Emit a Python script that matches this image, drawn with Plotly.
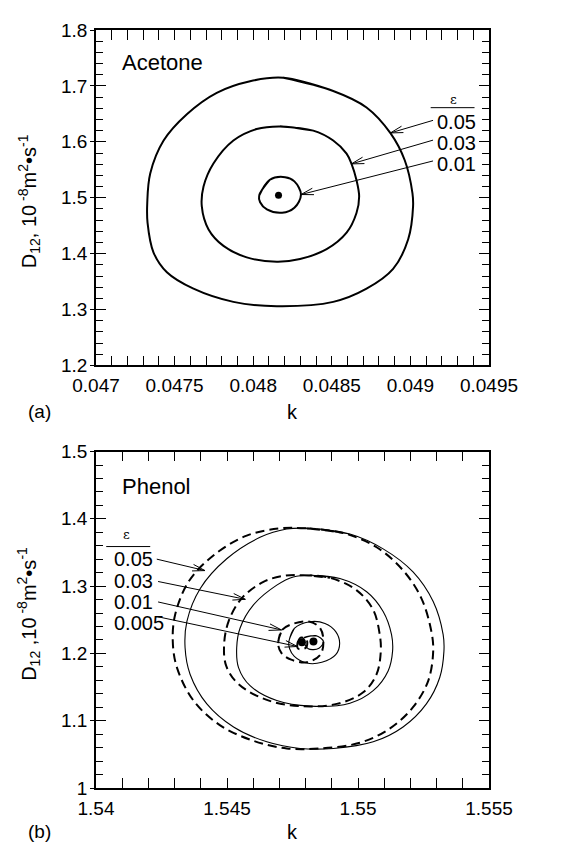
import numpy as np
import plotly.graph_objects as go

FONT = "Liberation Sans, Arial, sans-serif"

# ---------------- Panel (a): Acetone ----------------
a_x_range = [0.047, 0.0495]
a_y_range = [1.2, 1.8]
a_x_ticks = [0.047, 0.0475, 0.048, 0.0485, 0.049, 0.0495]
a_x_text = ["0.047", "0.0475", "0.048", "0.0485", "0.049", "0.0495"]
a_y_ticks = [1.2, 1.3, 1.4, 1.5, 1.6, 1.7, 1.8]
a_y_text = ["1.2", "1.3", "1.4", "1.5", "1.6", "1.7", "1.8"]

a_k_005 = [0.048192, 0.048509, 0.048721, 0.048873, 0.048964, 0.049013, 0.049017, 0.048986,
           0.048890, 0.048721, 0.048509, 0.048150, 0.047874, 0.047620, 0.047451, 0.047366,
           0.047328, 0.047326, 0.047345, 0.047430, 0.047578, 0.047768, 0.047980]
a_D_005 = [1.7145, 1.6910, 1.6615, 1.6155, 1.5670, 1.5081, 1.4846, 1.4257,
           1.3727, 1.3373, 1.3137, 1.3060, 1.3137, 1.3373, 1.3667, 1.4020,
           1.4550, 1.4904, 1.5434, 1.6023, 1.6494, 1.6877, 1.7084]

a_k_003 = [0.048171, 0.048382, 0.048509, 0.048594, 0.048626, 0.048657, 0.048674, 0.048657,
           0.048594, 0.048467, 0.048298, 0.048150, 0.047959, 0.047811, 0.047716, 0.047673,
           0.047684, 0.047747, 0.047874, 0.048022]
a_D_003 = [1.6276, 1.6200, 1.6023, 1.5788, 1.5600, 1.5316, 1.5022, 1.4727,
           1.4374, 1.4079, 1.3903, 1.3856, 1.3933, 1.4138, 1.4433, 1.4845,
           1.5199, 1.5611, 1.6023, 1.6229]

a_k_001 = [0.048038, 0.048106, 0.048203, 0.048262, 0.048304, 0.048262, 0.048184, 0.048087, 0.048044]
a_D_001 = [1.5039, 1.5322, 1.5368, 1.5292, 1.5057, 1.4820, 1.4731, 1.4791, 1.4920]

a_opt_k = [0.048161]
a_opt_D = [1.5044]

a_labels = ["0.05", "0.03", "0.01"]
a_label_k = 0.049155
a_label_D = [1.6354, 1.5982, 1.5599]
a_arrow_tail = [(0.049144, 1.6384), (0.049144, 1.6030), (0.049144, 1.5658)]
a_arrow_tip = [(0.048873, 1.6159), (0.048625, 1.5605), (0.048304, 1.5057)]
a_eps = (0.049271, 1.6749)
a_eps_line = (0.049129, 0.049408, 1.6611)
a_name = ("Acetone", 0.047154, 1.7416)

# ---------------- Panel (b): Phenol ----------------
b_x_range = [1.54, 1.555]
b_y_range = [1.0, 1.5]
b_x_ticks = [1.54, 1.545, 1.55, 1.555]
b_x_text = ["1.54", "1.545", "1.55", "1.555"]
b_y_ticks = [1.0, 1.1, 1.2, 1.3, 1.4, 1.5]
b_y_text = ["1", "1.1", "1.2", "1.3", "1.4", "1.5"]

# solid contours
b_k_005s = [1.54817, 1.54969, 1.55096, 1.55210, 1.55287, 1.55325, 1.55328, 1.55312, 1.55261,
            1.55172, 1.55058, 1.54906, 1.54779, 1.54652, 1.54525, 1.54423, 1.54359, 1.54340,
            1.54347, 1.54398, 1.54499, 1.54626, 1.54728]
b_D_005s = [1.3858, 1.3775, 1.3554, 1.3211, 1.2770, 1.2279, 1.2034, 1.1642, 1.1250,
            1.0907, 1.0686, 1.0588, 1.0588, 1.0686, 1.0907, 1.1250, 1.1691, 1.2083,
            1.2476, 1.2966, 1.3407, 1.3725, 1.3848]
b_k_003s = [1.54817, 1.54931, 1.55033, 1.55096, 1.55128, 1.55132, 1.55115, 1.55058, 1.54969,
            1.54817, 1.54690, 1.54588, 1.54544, 1.54537, 1.54550, 1.54601, 1.54690, 1.54753]
b_D_003s = [1.3162, 1.3113, 1.2917, 1.2623, 1.2279, 1.2034, 1.1740, 1.1446, 1.1260,
            1.1216, 1.1299, 1.1520, 1.1789, 1.2083, 1.2377, 1.2721, 1.3015, 1.3137]
b_k_001s = [1.54736, 1.54757, 1.54816, 1.54874, 1.54915, 1.54930, 1.54915, 1.54862, 1.54804,
            1.54757, 1.54739]
b_D_001s = [1.2176, 1.2372, 1.2471, 1.2446, 1.2324, 1.2152, 1.1981, 1.1868, 1.1857,
            1.1956, 1.2069]
b_k_0005s = [1.54792, 1.54839, 1.54868, 1.54851, 1.54810]
b_D_0005s = [1.2225, 1.2265, 1.2176, 1.2078, 1.2069]

# dashed contours
b_k_005d = [1.54804, 1.54943, 1.55071, 1.55172, 1.55242, 1.55280, 1.55287, 1.55268, 1.55210,
            1.55121, 1.55007, 1.54855, 1.54728, 1.54601, 1.54474, 1.54372, 1.54309, 1.54293,
            1.54302, 1.54353, 1.54448, 1.54575, 1.54702]
b_D_005d = [1.3858, 1.3790, 1.3578, 1.3235, 1.2819, 1.2328, 1.2034, 1.1593, 1.1201,
            1.0882, 1.0672, 1.0588, 1.0588, 1.0701, 1.0931, 1.1299, 1.1789, 1.2181,
            1.2574, 1.3064, 1.3456, 1.3750, 1.3858]
b_k_003d = [1.54791, 1.54893, 1.54994, 1.55058, 1.55083, 1.55087, 1.55071, 1.55020, 1.54919,
            1.54779, 1.54652, 1.54544, 1.54497, 1.54489, 1.54506, 1.54556, 1.54639, 1.54715]
b_D_003d = [1.3162, 1.3123, 1.2941, 1.2647, 1.2279, 1.2034, 1.1691, 1.1422, 1.1250,
            1.1216, 1.1309, 1.1544, 1.1814, 1.2132, 1.2476, 1.2819, 1.3064, 1.3152]
b_k_001d = [1.54695, 1.54710, 1.54757, 1.54816, 1.54856, 1.54868, 1.54856, 1.54804, 1.54745,
            1.54708]
b_D_001d = [1.2152, 1.2348, 1.2446, 1.2471, 1.2372, 1.2176, 1.1981, 1.1868, 1.1907, 1.2004]
b_k_0005d = [1.54769, 1.54781, 1.54804, 1.54802, 1.54772]
b_D_0005d = [1.2152, 1.2235, 1.2201, 1.2088, 1.2069]

b_opt_k = [1.54786, 1.54830]
b_opt_D = [1.2166, 1.2176]

b_labels = ["0.05", "0.03", "0.01", "0.005"]
b_label_k = 1.5406
b_label_D = [1.3401, 1.3069, 1.2765, 1.2446]
b_arrow_tail = [(1.54232, 1.3401), (1.54237, 1.3069), (1.54237, 1.2765), (1.54237, 1.2544)]
b_arrow_tip = [(1.54416, 1.3231), (1.54570, 1.2804), (1.54708, 1.2349), (1.54769, 1.2103)]
b_eps = (1.54118, 1.3769)
b_eps_line = (1.54039, 1.54207, 1.3588)
b_name = ("Phenol", 1.54092, 1.4480)

# ---------------- layout geometry ----------------
# The page body adds an 8 px offset; figure coords = page coords - OFF
OFF = 8
W, H = 560, 837
ML = 96 - OFF
PW = 393
MR = W - ML - PW
MT = 22 - OFF
MB = H - (788 - OFF)
PH = H - MT - MB
top_dom = [1 - (361 - 22) / PH, 1.0]
bot_dom = [0.0, 1 - (448 - 22) / PH]

fig = go.Figure()


def closed(xs, ys):
    return list(xs) + [xs[0], xs[1]], list(ys) + [ys[0], ys[1]]


def add_contour(xs, ys, xa, ya, width, dash="solid"):
    cx, cy = closed(xs, ys)
    fig.add_trace(go.Scatter(x=cx, y=cy, xaxis=xa, yaxis=ya, mode="lines",
                             line=dict(color="black", width=width, dash=dash, shape="spline",
                                       smoothing=1.0),
                             hoverinfo="skip", showlegend=False))


add_contour(a_k_005, a_D_005, "x", "y", 2.0)
add_contour(a_k_003, a_D_003, "x", "y", 2.0)
add_contour(a_k_001, a_D_001, "x", "y", 2.0)
fig.add_trace(go.Scatter(x=a_opt_k, y=a_opt_D, xaxis="x", yaxis="y", mode="markers",
                         marker=dict(color="black", size=7), showlegend=False))

DASH = "9px,5px"
add_contour(b_k_005s, b_D_005s, "x2", "y2", 1.1)
add_contour(b_k_003s, b_D_003s, "x2", "y2", 1.1)
add_contour(b_k_001s, b_D_001s, "x2", "y2", 1.1)
add_contour(b_k_0005s, b_D_0005s, "x2", "y2", 1.1)
add_contour(b_k_005d, b_D_005d, "x2", "y2", 2.0, DASH)
add_contour(b_k_003d, b_D_003d, "x2", "y2", 2.0, DASH)
add_contour(b_k_001d, b_D_001d, "x2", "y2", 2.0, DASH)
add_contour(b_k_0005d, b_D_0005d, "x2", "y2", 2.0, DASH)
fig.add_trace(go.Scatter(x=b_opt_k, y=b_opt_D, xaxis="x2", yaxis="y2", mode="markers",
                         marker=dict(color="black", size=8), showlegend=False))

# invisible traces for overlay axes (outside part of crossing major ticks)
fig.add_trace(go.Scatter(x=[a_x_range[0]], y=[a_y_range[0]], xaxis="x", yaxis="y3",
                         mode="markers", marker=dict(opacity=0), showlegend=False, hoverinfo="skip"))
fig.add_trace(go.Scatter(x=[b_x_range[0]], y=[b_y_range[0]], xaxis="x2", yaxis="y4",
                         mode="markers", marker=dict(opacity=0), showlegend=False, hoverinfo="skip"))

shapes = []
annotations = []


def add_arrows(tails, tips, xr, yr, xref, yref, dom_h):
    sx = PW / (xr[1] - xr[0])
    sy = (dom_h * PH) / (yr[1] - yr[0])
    L, ang = 13.0, np.deg2rad(15)
    for (x0, y0), (x1, y1) in zip(tails, tips):
        shapes.append(dict(type="line", xref=xref, yref=yref, x0=x0, y0=y0, x1=x1, y1=y1,
                           line=dict(color="black", width=1)))
        dx, dy = (x0 - x1) * sx, (y0 - y1) * sy
        n = np.hypot(dx, dy)
        ux, uy = dx / n, dy / n
        for s in (1, -1):
            c, si = np.cos(s * ang), np.sin(s * ang)
            bx, by = ux * c - uy * si, ux * si + uy * c
            shapes.append(dict(type="line", xref=xref, yref=yref, x0=x1, y0=y1,
                               x1=x1 + L * bx / sx, y1=y1 + L * by / sy,
                               line=dict(color="black", width=1)))


add_arrows(a_arrow_tail, a_arrow_tip, a_x_range, a_y_range, "x", "y", top_dom[1] - top_dom[0])
add_arrows(b_arrow_tail, b_arrow_tip, b_x_range, b_y_range, "x2", "y2", bot_dom[1] - bot_dom[0])

BLACK = "black"
for lab, d in zip(a_labels, a_label_D):
    annotations.append(dict(text=lab, x=a_label_k, y=d, xref="x", yref="y", showarrow=False,
                            xanchor="left", yanchor="middle",
                            font=dict(size=20, family=FONT, color=BLACK)))
for lab, d in zip(b_labels, b_label_D):
    annotations.append(dict(text=lab, x=b_label_k, y=d, xref="x2", yref="y2", showarrow=False,
                            xanchor="left", yanchor="middle",
                            font=dict(size=20, family=FONT, color=BLACK)))

annotations.append(dict(text="ε", x=a_eps[0], y=a_eps[1], xref="x", yref="y", showarrow=False,
                        font=dict(size=13, family="DejaVu Serif", color=BLACK)))
annotations.append(dict(text="ε", x=b_eps[0], y=b_eps[1], xref="x2", yref="y2", showarrow=False,
                        font=dict(size=13, family="DejaVu Serif", color=BLACK)))
shapes.append(dict(type="line", xref="x", yref="y", x0=a_eps_line[0], x1=a_eps_line[1],
                   y0=a_eps_line[2], y1=a_eps_line[2], line=dict(color="black", width=1)))
shapes.append(dict(type="line", xref="x2", yref="y2", x0=b_eps_line[0], x1=b_eps_line[1],
                   y0=b_eps_line[2], y1=b_eps_line[2], line=dict(color="black", width=1)))

annotations.append(dict(text=a_name[0], x=a_name[1], y=a_name[2], xref="x", yref="y",
                        showarrow=False, xanchor="left", yanchor="middle",
                        font=dict(size=22, family=FONT, color=BLACK)))
annotations.append(dict(text=b_name[0], x=b_name[1], y=b_name[2], xref="x2", yref="y2",
                        showarrow=False, xanchor="left", yanchor="middle",
                        font=dict(size=22, family=FONT, color=BLACK)))


def py(page_y):
    return (H - MB - (page_y - OFF)) / PH


def pxx(page_x):
    return (page_x - OFF - ML) / PW


# axis titles and panel tags (positions in page pixels)
annotations += [
    dict(text="k", x=0.5, y=py(408), xref="paper", yref="paper", showarrow=False,
         yanchor="middle", font=dict(size=20, family=FONT, color=BLACK)),
    dict(text="k", x=0.5, y=py(832), xref="paper", yref="paper", showarrow=False,
         yanchor="middle", font=dict(size=20, family=FONT, color=BLACK)),
    dict(text="(a)", x=pxx(26), y=py(408), xref="paper", yref="paper", showarrow=False,
         yanchor="middle", font=dict(size=19, family=FONT, color=BLACK)),
    dict(text="(b)", x=pxx(26), y=py(832), xref="paper", yref="paper", showarrow=False,
         yanchor="middle", font=dict(size=19, family=FONT, color=BLACK)),
    dict(text="D<sub>12</sub>, 10<sup> -8</sup>m<sup>2</sup>•s<sup>-1</sup>", x=pxx(29),
         y=py(195), xref="paper", yref="paper", showarrow=False, textangle=-90,
         xanchor="center", yanchor="middle", font=dict(size=20, family=FONT, color=BLACK)),
    dict(text="D<sub>12</sub> ,10<sup> -8</sup>m<sup>2</sup>•s<sup>-1</sup>", x=pxx(29),
         y=py(612), xref="paper", yref="paper", showarrow=False, textangle=-90,
         xanchor="center", yanchor="middle", font=dict(size=20, family=FONT, color=BLACK)),
]

tickfont = dict(size=19, family=FONT, color="black")
common = dict(showline=True, linecolor="black", linewidth=1.5, mirror="allticks",
              ticks="inside", ticklen=10, tickwidth=1, tickcolor="black", showgrid=False,
              zeroline=False, tickfont=tickfont, tickmode="array", fixedrange=True)

fig.update_layout(
    width=W, height=H, margin=dict(l=ML, r=MR, t=MT, b=MB),
    paper_bgcolor="white", plot_bgcolor="white", showlegend=False,
    font=dict(family=FONT, color="black"),
    xaxis=dict(common, domain=[0, 1], anchor="y", range=a_x_range, tickvals=a_x_ticks,
               ticktext=a_x_text, ticklabelstandoff=2,
               minor=dict(ticks="inside", ticklen=7, tickwidth=1, tickcolor="black",
                          dtick=0.0001, tick0=0.047)),
    yaxis=dict(common, domain=top_dom, anchor="x", range=a_y_range, tickvals=a_y_ticks,
               ticktext=a_y_text, ticklabelstandoff=3,
               minor=dict(ticks="inside", ticklen=7, tickwidth=1, tickcolor="black",
                          dtick=0.02, tick0=1.2)),
    xaxis2=dict(common, domain=[0, 1], anchor="y2", range=b_x_range, tickvals=b_x_ticks,
                ticktext=b_x_text, ticklabelstandoff=2,
                minor=dict(ticks="inside", ticklen=7, tickwidth=1, tickcolor="black",
                           dtick=0.001, tick0=1.54)),
    yaxis2=dict(common, domain=bot_dom, anchor="x2", range=b_y_range, tickvals=b_y_ticks,
                ticktext=b_y_text, ticklabelstandoff=3,
                minor=dict(ticks="inside", ticklen=7, tickwidth=1, tickcolor="black",
                           dtick=0.02, tick0=1.0)),
    yaxis3=dict(overlaying="y", anchor="x", side="left", range=a_y_range, tickmode="array",
                tickvals=a_y_ticks, ticks="outside", ticklen=5, tickcolor="black",
                showticklabels=False, showline=False, showgrid=False, zeroline=False,
                fixedrange=True),
    yaxis4=dict(overlaying="y2", anchor="x2", side="left", range=b_y_range, tickmode="array",
                tickvals=b_y_ticks, ticks="outside", ticklen=5, tickcolor="black",
                showticklabels=False, showline=False, showgrid=False, zeroline=False,
                fixedrange=True),
    shapes=shapes, annotations=annotations,
)

fig.write_html("out.html")
